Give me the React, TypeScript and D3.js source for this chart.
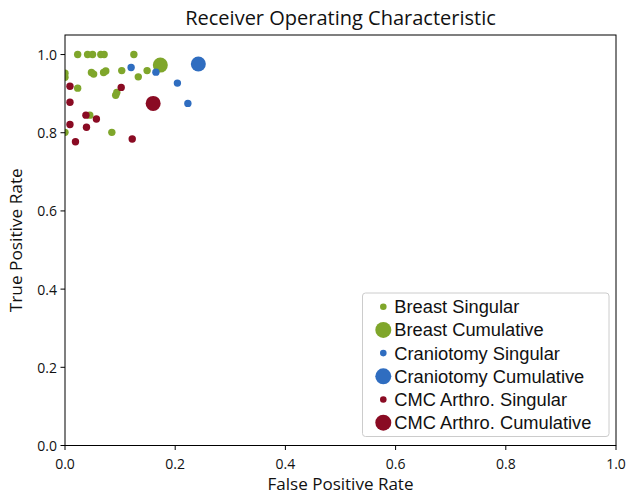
import React from "react";
import * as d3 from "d3";

const breastSingularX = [0.023, 0.041, 0.05, 0.065, 0.071, 0.125, 0.0, 0.0, 0.048, 0.052, 0.07, 0.074, 0.103, 0.133, 0.149, 0.023, 0.094, 0.092, 0.045, 0.0, 0.085];
const breastSingularY = [1.0, 1.0, 1.0, 1.0, 1.0, 1.0, 0.952, 0.942, 0.954, 0.95, 0.954, 0.958, 0.959, 0.943, 0.959, 0.914, 0.903, 0.896, 0.845, 0.801, 0.801];
const breastCumX = [0.173];
const breastCumY = [0.973];
const cranioSingularX = [0.12, 0.165, 0.204, 0.223];
const cranioSingularY = [0.967, 0.955, 0.927, 0.875];
const cranioCumX = [0.242];
const cranioCumY = [0.976];
const cmcSingularX = [0.009, 0.102, 0.009, 0.038, 0.057, 0.009, 0.039, 0.019, 0.122];
const cmcSingularY = [0.919, 0.916, 0.878, 0.845, 0.835, 0.821, 0.814, 0.777, 0.784];
const cmcCumX = [0.16];
const cmcCumY = [0.875];

const xTicks = [0, 0.2, 0.4, 0.6, 0.8, 1.0];
const yTicks = [0, 0.2, 0.4, 0.6, 0.8, 1.0];

const GREEN = "#7fa62b";
const BLUE = "#2f6dc0";
const RED = "#8a0b23";

const seriesList = [
  { name: "Breast Singular", xs: breastSingularX, ys: breastSingularY, color: GREEN, r: 3.7 },
  { name: "Breast Cumulative", xs: breastCumX, ys: breastCumY, color: GREEN, r: 7.5 },
  { name: "Craniotomy Singular", xs: cranioSingularX, ys: cranioSingularY, color: BLUE, r: 3.7 },
  { name: "Craniotomy Cumulative", xs: cranioCumX, ys: cranioCumY, color: BLUE, r: 7.5 },
  { name: "CMC Arthro. Singular", xs: cmcSingularX, ys: cmcSingularY, color: RED, r: 3.7 },
  { name: "CMC Arthro. Cumulative", xs: cmcCumX, ys: cmcCumY, color: RED, r: 7.5 },
];

export default function App() {
  const W = 633, H = 496;
  const L = 65, R = 616, T = 35, B = 445.5;
  const x = d3.scaleLinear().domain([0, 1]).range([L, R]);
  const y = d3.scaleLinear().domain([0, 1.05]).range([B, T]);
  const fmt = d3.format(".1f");
  const font = "'Open Sans', 'DejaVu Sans', sans-serif";
  const legFont = "'Liberation Sans', Arial, sans-serif";
  const legX = 362.5, legY = 293, legW = 246.5, legH = 143.5;
  const rowY = (i: number) => 306.7 + i * 23.2;
  return (
    <svg width={W} height={H} style={{ position: "absolute", left: 0, top: 0, background: "#fff" }}>
      <defs>
        <clipPath id="plotclip">
          <rect x={L} y={T} width={R - L} height={B - T} />
        </clipPath>
      </defs>
      <rect x={0} y={0} width={W} height={H} fill="#fff" />
      <g clipPath="url(#plotclip)">
        {seriesList.map((s, si) => (
          <g key={si}>
            {s.xs.map((vx, i) => (
              <circle key={i} cx={x(vx)} cy={y(s.ys[i])} r={s.r} fill={s.color} />
            ))}
          </g>
        ))}
      </g>
      <rect x={L} y={T} width={R - L} height={B - T} fill="none" stroke="#000" strokeWidth={1} />
      {xTicks.map((t, i) => (
        <g key={"x" + i}>
          <line x1={x(t)} x2={x(t)} y1={B} y2={B + 4.5} stroke="#000" />
          <text x={x(t)} y={463.5} fontSize={14} fontFamily={font} textAnchor="middle" dominantBaseline="central" fill="#111">{fmt(t)}</text>
        </g>
      ))}
      {yTicks.map((t, i) => (
        <g key={"y" + i}>
          <line x1={L - 4.5} x2={L} y1={y(t)} y2={y(t)} stroke="#000" />
          <text x={L - 8} y={y(t)} fontSize={14} fontFamily={font} textAnchor="end" dominantBaseline="central" fill="#111">{fmt(t)}</text>
        </g>
      ))}
      <text x={(L + R) / 2} y={17} fontSize={20} fontFamily={font} textAnchor="middle" dominantBaseline="central" fill="#111">Receiver Operating Characteristic</text>
      <text x={(L + R) / 2} y={484} fontSize={16} textLength={146} lengthAdjust="spacingAndGlyphs" fontFamily={font} textAnchor="middle" dominantBaseline="central" fill="#111">False Positive Rate</text>
      <text transform={`translate(16,${(T + B) / 2}) rotate(-90)`} fontSize={16} textLength={144} lengthAdjust="spacingAndGlyphs" fontFamily={font} textAnchor="middle" dominantBaseline="central" fill="#111">True Positive Rate</text>
      <rect x={legX} y={legY} width={legW} height={legH} rx={3} fill="#fff" fillOpacity={0.85} stroke="#cccccc" strokeWidth={1} />
      {seriesList.map((s, i) => (
        <g key={"l" + i}>
          <circle cx={383.3} cy={rowY(i)} r={s.r > 5 ? 8 : 3.3} fill={s.color} />
          <text x={394.3} y={rowY(i)} fontSize={18.3} fontFamily={legFont} dominantBaseline="central" fill="#111">{s.name}</text>
        </g>
      ))}
    </svg>
  );
}
